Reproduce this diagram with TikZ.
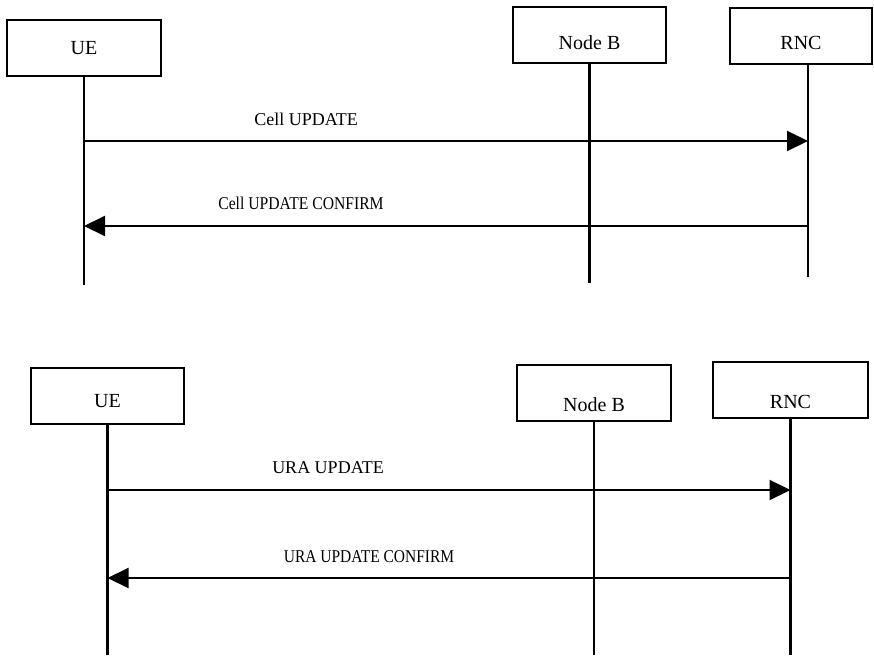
\documentclass[tikz,border=0pt]{standalone}
\usepackage{fontspec}
\setmainfont{Liberation Serif}
\usetikzlibrary{arrows.meta}

% label text lowered inside its box without changing the box size
\newcommand\lowtext[2]{\raisebox{#1}[0pt][0pt]{#2}}

\tikzset{
  entity/.style={draw=black, line width=2pt, fill=white, minimum height=56pt,
                 inner sep=0pt, font=\fontsize{20}{23}\selectfont},
  lifeline/.style={draw=black, line width=2.2pt},
  msg/.style={draw=black, line width=2pt, -{Triangle[length=21pt,width=20pt]}},
  msglabel/.style={inner sep=0pt, font=\fontsize{18}{21}\selectfont},
  conflabel/.style={inner sep=0pt, font=\fontsize{18}{21}\selectfont}
}

\begin{document}
\begin{tikzpicture}[x=1pt, y=1pt]
  % canvas
  \path[fill=white, use as bounding box] (0,0) rectangle (874,-655);

  % ---------- Cell update procedure ----------
  \node[entity, minimum width=154pt] (ue1)   at (84,-48)  {\lowtext{-7pt}{UE}};
  \node[entity, minimum width=153pt] (nb1)   at (589.5,-35.5) {\lowtext{-14pt}{Node B}};
  \node[entity, minimum width=142pt] (rnc1)  at (801,-36) {\lowtext{-13.5pt}{RNC}};

  \coordinate (ue1end)  at (84,-285);
  \coordinate (nb1end)  at (589.5,-283);
  \coordinate (rnc1end) at (808,-277);

  \draw[lifeline] (ue1.south) -- (ue1end);
  \draw[lifeline, line width=2.8pt] (nb1.south) -- (nb1end);
  \draw[lifeline] ([xshift=7pt]rnc1.south) -- (rnc1end);

  \draw[msg] (ue1end |- 0,-141) -- (rnc1end |- 0,-141);
  \node[msglabel] (m1) at (306,-119) {Cell UPDATE};

  \draw[msg] (rnc1end |- 0,-226) -- (ue1end |- 0,-226);
  \node[conflabel] (m2) at (301,-203) {\scalebox{0.87}[1]{Cell UPDATE CONFIRM}};

  % ---------- URA update procedure ----------
  \node[entity, minimum width=153pt] (ue2)  at (107.5,-396) {\lowtext{-11pt}{UE}};
  \node[entity, minimum width=154pt] (nb2)  at (594,-392.5) {\lowtext{-19pt}{Node B}};
  \node[entity, minimum width=155pt] (rnc2) at (790.5,-390) {\lowtext{-18.5pt}{RNC}};

  \coordinate (ue2end)  at (107.5,-655);
  \coordinate (nb2end)  at (594,-655);
  \coordinate (rnc2end) at (790.5,-655);

  \draw[lifeline] (ue2.south) -- (ue2end);
  \draw[lifeline] (nb2.south) -- (nb2end);
  \draw[lifeline] (rnc2.south) -- (rnc2end);

  \draw[msg] (ue2end |- 0,-490) -- (rnc2end |- 0,-490);
  \node[msglabel] (m3) at (328,-468) {URA UPDATE};

  \draw[msg] (rnc2end |- 0,-578) -- (ue2end |- 0,-578);
  \node[conflabel] (m4) at (369,-557) {\scalebox{0.86}[1]{URA UPDATE CONFIRM}};
\end{tikzpicture}
\end{document}
